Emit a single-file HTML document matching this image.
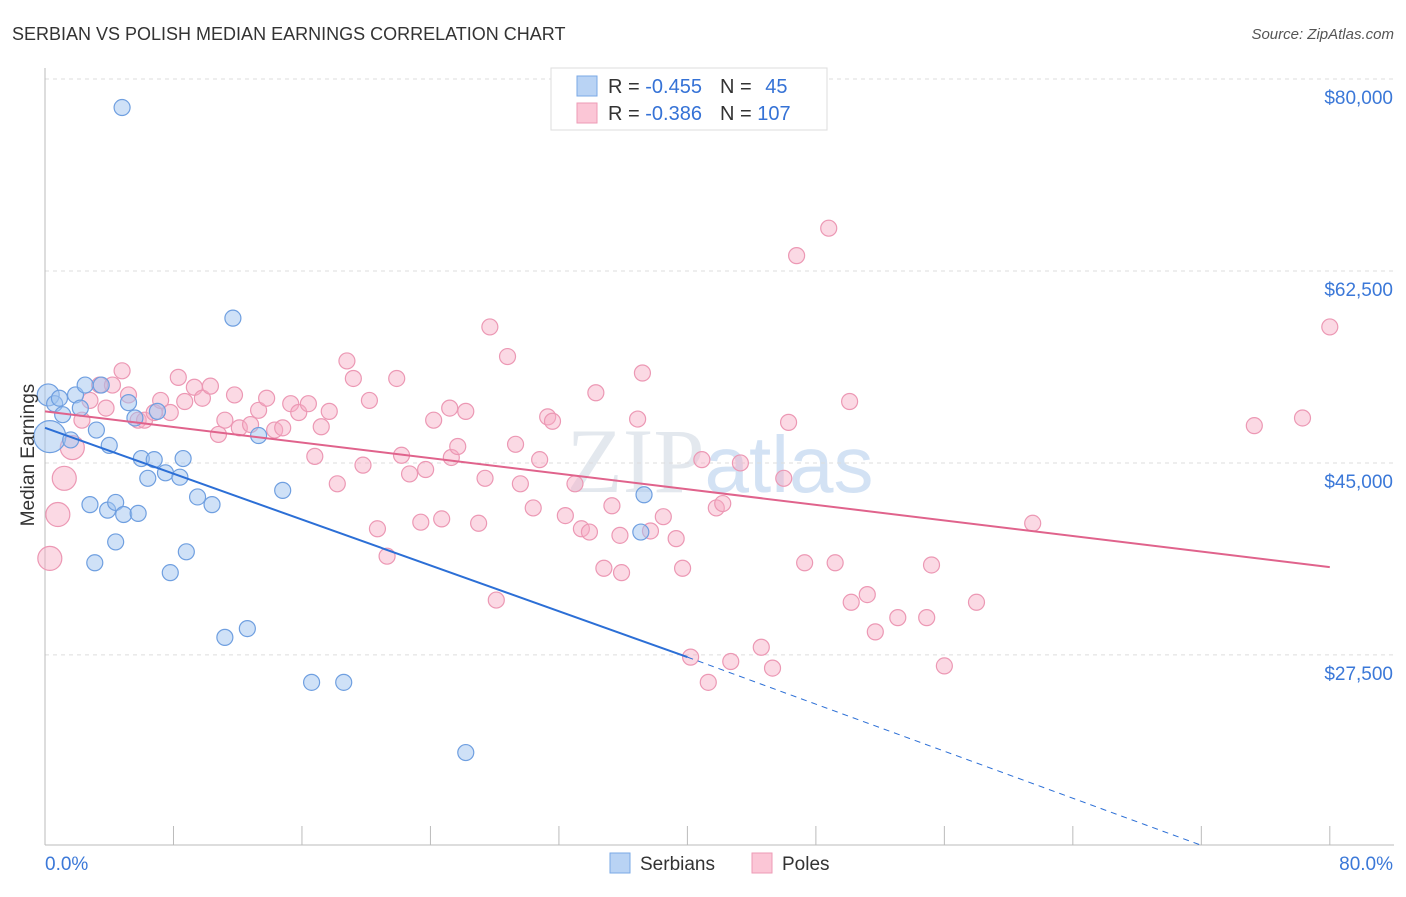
<!DOCTYPE html>
<html><head><meta charset="utf-8"><style>
body{margin:0;background:#fff;width:1406px;height:892px;overflow:hidden;font-family:"Liberation Sans",sans-serif}
</style></head><body>
<svg id="chart" width="1406" height="892" xmlns="http://www.w3.org/2000/svg" font-family="Liberation Sans, sans-serif">
<text x="12" y="40" font-size="18" fill="#333">SERBIAN VS POLISH MEDIAN EARNINGS CORRELATION CHART</text>
<text x="1394" y="39" font-size="15" fill="#555" font-style="italic" text-anchor="end">Source: ZipAtlas.com</text>
<text x="720" y="492" font-size="92" fill="#e3e8ee" text-anchor="middle" font-family="Liberation Serif, serif">ZIP<tspan fill="#d3e2f4" font-family="Liberation Sans, sans-serif" font-size="80">atlas</tspan></text>
<g id="grid"></g>
<g id="axes"></g>
<g id="marks"></g>
<g id="trends"></g>
<text transform="translate(34,455) rotate(-90)" font-size="19" fill="#333" text-anchor="middle">Median Earnings</text>
<g>
<rect x="551" y="68" width="276" height="62" fill="#fff" stroke="#ddd"/>
<rect x="577" y="76" width="20" height="20" fill="#b9d3f4" stroke="#7aa8e6"/>
<rect x="577" y="103" width="20" height="20" fill="#fbc6d6" stroke="#ee9bb6"/>
<text x="608" y="93" font-size="20" fill="#333">R = <tspan fill="#3572d6">-0.455</tspan><tspan dx="18">N = </tspan><tspan fill="#3572d6" dx="8">45</tspan></text>
<text x="608" y="120" font-size="20" fill="#333">R = <tspan fill="#3572d6">-0.386</tspan><tspan dx="18">N = </tspan><tspan fill="#3572d6">107</tspan></text>
</g>
<g>
<rect x="610" y="853" width="20" height="20" fill="#b9d3f4" stroke="#7aa8e6"/>
<text x="640" y="870" font-size="19" fill="#333">Serbians</text>
<rect x="752" y="853" width="20" height="20" fill="#fbc6d6" stroke="#ee9bb6"/>
<text x="782" y="870" font-size="19" fill="#333">Poles</text>
</g>
</svg>
<script>
const yTicks=[80000,62500,45000,27500];
const yTickLabels=["$80,000","$62,500","$45,000","$27,500"];
const xTicks=[0,8,16,24,32,40,48,56,64,72,80];
const xEndLabels=["0.0%","80.0%"];
const serbX=[0.2,0.3,0.6,1.1,0.9,1.6,1.9,2.2,2.5,2.8,3.2,3.5,3.9,4.0,4.4,4.4,4.8,4.9,3.1,5.2,5.6,5.8,6.0,6.4,6.8,7.0,7.5,7.8,8.4,8.6,8.8,9.5,10.4,11.2,11.7,12.6,13.3,14.8,16.6,18.6,26.2,37.1,37.3];
const serbY=[51.2,47.4,50.4,49.4,50.9,47.1,51.2,50.0,52.1,41.2,48.0,52.1,40.7,46.6,41.4,37.8,77.4,40.3,35.9,50.5,49.1,40.4,45.4,43.6,45.3,49.7,44.1,35.0,43.7,45.4,36.9,41.9,41.2,29.1,58.2,29.9,47.5,42.5,25.0,25.0,18.6,38.7,42.1];
const polX=[0.3,0.8,1.2,1.7,2.3,2.8,3.4,3.8,4.2,4.8,5.2,5.8,6.2,6.8,7.2,7.8,8.3,8.7,9.3,9.8,10.3,10.8,11.2,11.8,12.1,12.8,13.3,13.8,14.3,14.8,15.3,15.8,16.4,16.8,17.2,17.7,18.2,18.8,19.2,19.8,20.2,20.7,21.3,21.9,22.2,22.7,23.4,23.7,24.2,24.7,25.2,25.3,25.7,26.2,27.0,27.4,27.7,28.1,28.8,29.3,29.6,30.4,30.8,31.3,31.6,32.4,33.0,33.4,33.9,34.3,34.8,35.3,35.8,35.9,36.9,37.2,37.7,38.5,39.3,39.7,40.2,40.9,41.3,41.8,42.2,42.7,43.3,44.6,45.3,46.0,46.3,46.8,47.3,48.8,49.2,50.1,50.2,51.2,51.7,53.1,54.9,55.2,56.0,58.0,61.5,75.3,78.3,80.0];
const polY=[36.3,40.3,43.6,46.4,48.9,50.7,52.1,50.0,52.1,53.4,51.2,48.9,48.9,49.6,50.7,49.6,52.8,50.6,51.9,50.9,52.0,47.6,48.9,51.2,48.2,48.5,49.8,50.9,48.0,48.2,50.4,49.6,50.4,45.6,48.3,49.7,43.1,54.3,52.7,44.8,50.7,39.0,36.5,52.7,45.7,44.0,39.6,44.4,48.9,39.9,50.0,45.5,46.5,49.7,39.5,43.6,57.4,32.5,54.7,46.7,43.1,40.9,45.3,49.2,48.8,40.2,43.1,39.0,38.7,51.4,35.4,41.1,38.4,35.0,49.0,53.2,38.8,40.1,38.1,35.4,27.3,45.3,25.0,40.9,41.3,26.9,45.0,28.2,26.3,43.6,48.7,63.9,35.9,66.4,35.9,50.6,32.3,33.0,29.6,30.9,30.9,35.7,26.5,32.3,39.5,48.4,49.1,57.4];
const serbBig=[0,1];
const polBig=[0,1,2,3];
const serbTrendX=[0,40,71.9];
const serbTrendY=[48.2,27.3,10.2];
const polTrendX=[0,80];
const polTrendY=[49.7,35.5];

const NS="http://www.w3.org/2000/svg";
function xs(v){return 45+v*16.06;}
function ys(v){return 79+(80000-v)*0.01097;}
function ysk(v){return ys(v*1000);}
function mk(tag,attrs,parent){const e=document.createElementNS(NS,tag);for(const k in attrs)e.setAttribute(k,attrs[k]);parent.appendChild(e);return e;}
const grid=document.getElementById('grid'),axes=document.getElementById('axes'),marks=document.getElementById('marks'),trends=document.getElementById('trends');
yTicks.forEach((t,i)=>{
 const l=mk('line',{x1:45,x2:1394,y1:ys(t),y2:ys(t),stroke:'#ddd','stroke-dasharray':'4,4'},grid);
 
 
 const tx=mk('text',{x:1393,y:ys(t)+25,'font-size':19,fill:'#3b78d8','text-anchor':'end'},axes);
 tx.textContent=yTickLabels[i];
 
 
});
let a=mk('line',{x1:45,x2:45,y1:68,y2:845,stroke:'#bbb'},axes);


a=mk('line',{x1:45,x2:1394,y1:845,y2:845,stroke:'#bbb'},axes);


xTicks.forEach(t=>{
 const l=mk('line',{x1:xs(t),x2:xs(t),y1:826,y2:845,stroke:'#bbb'},axes);
 
 
});
let xl=mk('text',{x:45,y:870,'font-size':19,fill:'#3b78d8'},axes);xl.textContent=xEndLabels[0];


xl=mk('text',{x:1393,y:870,'font-size':19,fill:'#3b78d8','text-anchor':'end'},axes);xl.textContent=xEndLabels[1];


polX.forEach((x,i)=>{
 const c=mk('circle',{cx:xs(x),cy:ysk(polY[i]),r:polBig.includes(i)?12:8,fill:'rgba(247,170,196,0.45)',stroke:'#ec98b4','stroke-width':1.2},marks);
 
 
});
serbX.forEach((x,i)=>{
 const c=mk('circle',{cx:xs(x),cy:ysk(serbY[i]),r:serbBig.includes(i)?(i==1?16:11):8,fill:'rgba(160,196,240,0.5)',stroke:'#6f9fe0','stroke-width':1.2},marks);
 
 
});
let t=mk('line',{x1:xs(serbTrendX[0]),y1:ysk(serbTrendY[0]),x2:xs(serbTrendX[1]),y2:ysk(serbTrendY[1]),stroke:'#2c6fd6','stroke-width':2},trends);


t=mk('line',{x1:xs(serbTrendX[1]),y1:ysk(serbTrendY[1]),x2:xs(serbTrendX[2]),y2:ysk(serbTrendY[2]),stroke:'#2c6fd6','stroke-width':1,'stroke-dasharray':'6,5'},trends);


t=mk('line',{x1:xs(polTrendX[0]),y1:ysk(polTrendY[0]),x2:xs(polTrendX[1]),y2:ysk(polTrendY[1]),stroke:'#e0638c','stroke-width':2},trends);


</script>
</body></html>
